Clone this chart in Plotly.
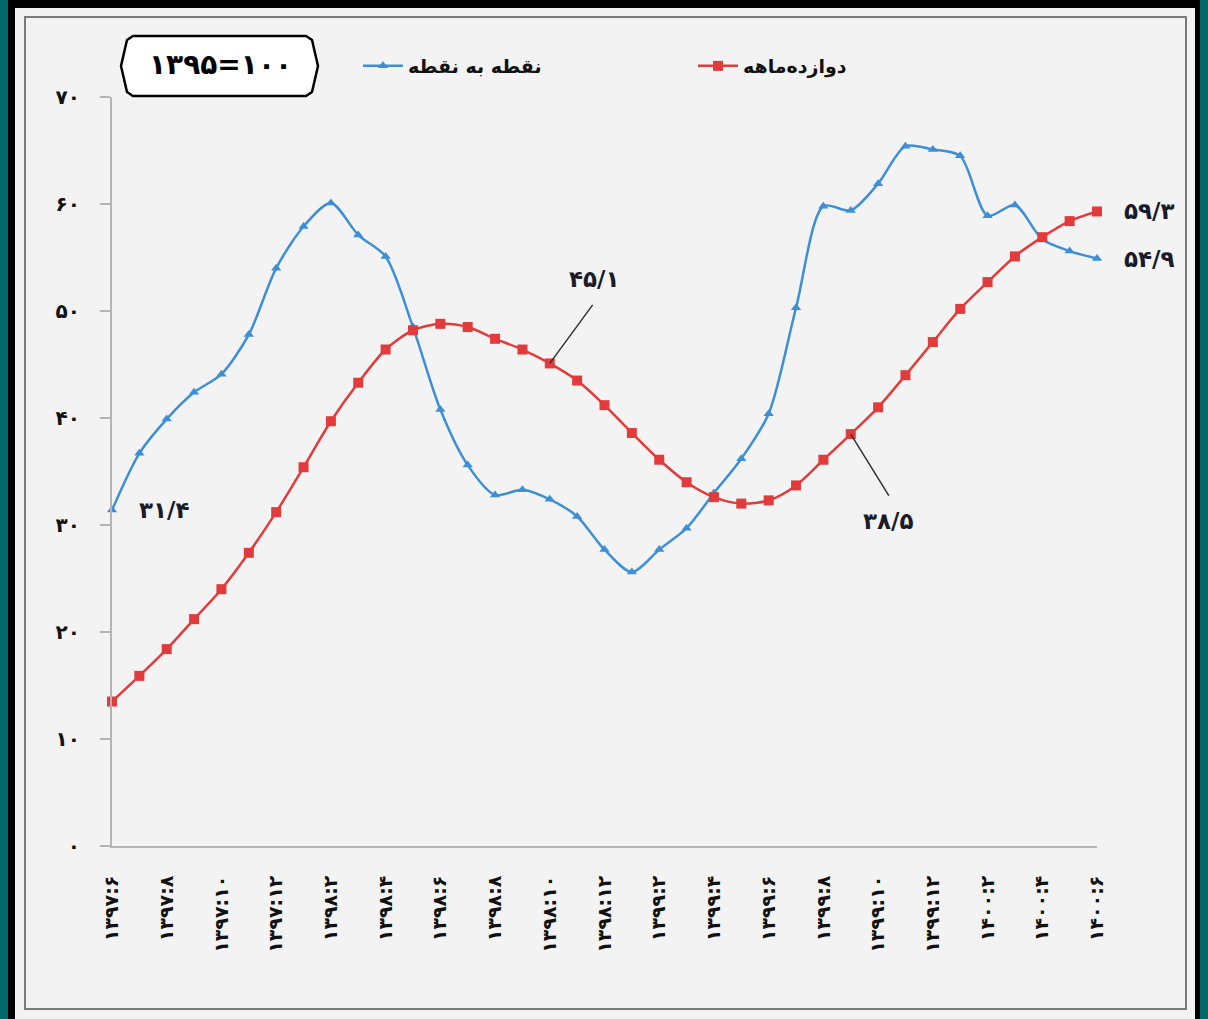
import plotly.graph_objects as go

# ---------------- data ----------------
categories = [
    "۱۳۹۷:۶", "۱۳۹۷:۷", "۱۳۹۷:۸", "۱۳۹۷:۹", "۱۳۹۷:۱۰", "۱۳۹۷:۱۱", "۱۳۹۷:۱۲",
    "۱۳۹۸:۱", "۱۳۹۸:۲", "۱۳۹۸:۳", "۱۳۹۸:۴", "۱۳۹۸:۵", "۱۳۹۸:۶",
    "۱۳۹۸:۷", "۱۳۹۸:۸", "۱۳۹۸:۹", "۱۳۹۸:۱۰", "۱۳۹۸:۱۱", "۱۳۹۸:۱۲",
    "۱۳۹۹:۱", "۱۳۹۹:۲", "۱۳۹۹:۳", "۱۳۹۹:۴", "۱۳۹۹:۵", "۱۳۹۹:۶",
    "۱۳۹۹:۷", "۱۳۹۹:۸", "۱۳۹۹:۹", "۱۳۹۹:۱۰", "۱۳۹۹:۱۱", "۱۳۹۹:۱۲",
    "۱۴۰۰:۱", "۱۴۰۰:۲", "۱۴۰۰:۳", "۱۴۰۰:۴", "۱۴۰۰:۵", "۱۴۰۰:۶",
]
point_to_point = [31.4, 36.7, 39.9, 42.4, 44.1, 47.8, 54.0, 57.9, 60.1, 57.1,
                  55.1, 48.5, 40.8, 35.6, 32.8, 33.3, 32.4, 30.8, 27.7, 25.6,
                  27.7, 29.7, 33.0, 36.2, 40.4, 50.3, 59.8, 59.4, 61.9, 65.4,
                  65.1, 64.5, 58.9, 59.9, 56.7, 55.6, 54.9]
twelve_month = [13.5, 15.9, 18.4, 21.2, 24.0, 27.4, 31.2, 35.4, 39.7, 43.3,
                46.4, 48.2, 48.8, 48.5, 47.4, 46.4, 45.1, 43.5, 41.2, 38.6,
                36.1, 34.0, 32.6, 32.0, 32.3, 33.7, 36.1, 38.5, 41.0, 44.0,
                47.1, 50.2, 52.7, 55.1, 56.9, 58.4, 59.3]
x_tick_labels = categories[::2]
y_tick_values = [0, 10, 20, 30, 40, 50, 60, 70]
y_tick_labels = ["۰", "۱۰", "۲۰", "۳۰", "۴۰", "۵۰", "۶۰", "۷۰"]
series_names = ["نقطه به نقطه", "دوازده‌ماهه"]
base_label = "۱۳۹۵=۱۰۰"
callouts = [  # (series index, point index, text)
    (0, 0, "۳۱/۴"),
    (1, 16, "۴۵/۱"),
    (1, 27, "۳۸/۵"),
    (1, 36, "۵۹/۳"),
    (0, 36, "۵۴/۹"),
]

# ---------------- layout geometry ----------------
W, H = 1208, 1019
L, R, T, B = 112, 1097, 97, 846
FONT = "DejaVu Sans"
BLUE = "#3d8fd6"
RED = "#e23b3b"


def px(x):
    return (x - L) / (R - L)


def py(y):
    return (B - y) / (B - T)


fig = go.Figure()
fig.add_trace(go.Scatter(
    x=categories, y=point_to_point, name=series_names[0], mode="lines+markers",
    line=dict(color=BLUE, width=2.5, shape="spline", smoothing=0.8),
    marker=dict(symbol="triangle-up", size=9, color=BLUE),
    cliponaxis=False,
))
fig.add_trace(go.Scatter(
    x=categories, y=twelve_month, name=series_names[1], mode="lines+markers",
    line=dict(color=RED, width=2.5, shape="spline", smoothing=0.8),
    marker=dict(symbol="square", size=10, color=RED),
    cliponaxis=False,
))

series = [point_to_point, twelve_month]
annotations = []
label_font = dict(family=FONT, size=23, color="#1a1a2a")
for s, i, txt in callouts:
    xv, yv = categories[i], series[s][i]
    if (s, i) == (1, 16):
        annotations.append(dict(x=xv, y=yv, text="", showarrow=True, arrowhead=0,
                                arrowwidth=1.5, arrowcolor="#333", ax=44, ay=-60, standoff=0))
        annotations.append(dict(x=xv, y=yv, text=f"<b>{txt}</b>", showarrow=False,
                                xshift=45, yshift=84, font=label_font))
    elif (s, i) == (1, 27):
        annotations.append(dict(x=xv, y=yv, text="", showarrow=True, arrowhead=0,
                                arrowwidth=1.5, arrowcolor="#333", ax=39, ay=63, standoff=0))
        annotations.append(dict(x=xv, y=yv, text=f"<b>{txt}</b>", showarrow=False,
                                xshift=38, yshift=-87, font=label_font))
    else:
        annotations.append(dict(x=xv, y=yv, text=f"<b>{txt}</b>", showarrow=False,
                                xshift=52, yshift=0, font=label_font))

# base-year box text
annotations.append(dict(xref="paper", yref="paper", x=px(220), y=py(65),
                        xanchor="center", yanchor="middle",
                        text=f"<b>{base_label}</b>", showarrow=False,
                        font=dict(family=FONT, size=28, color="#000")))


def path_from(points):
    return "M " + " L ".join(f"{px(a):.5f},{py(b):.5f}" for a, b in points) + " Z"


box_pts = [(121, 66), (127, 40), (133, 36), (306, 36), (312, 40), (318, 66),
           (312, 92), (306, 96), (133, 96), (127, 92)]

shapes = [
    # panel background and frame
    dict(type="rect", xref="paper", yref="paper", x0=px(0), x1=px(8), y0=py(0), y1=py(H),
         fillcolor="#00686a", line_width=0, layer="below"),
    dict(type="rect", xref="paper", yref="paper", x0=px(1200), x1=px(W), y0=py(0), y1=py(H),
         fillcolor="#00686a", line_width=0, layer="below"),
    dict(type="rect", xref="paper", yref="paper", x0=px(15), x1=px(1195), y0=py(8), y1=py(H),
         fillcolor="#f3f3f3", line_width=0, layer="below"),
    dict(type="rect", xref="paper", yref="paper", x0=px(25), x1=px(1186), y0=py(17), y1=py(1009),
         fillcolor="rgba(0,0,0,0)", line=dict(color="#7a7a7a", width=2), layer="below"),
    # base-year box
    dict(type="path", xref="paper", yref="paper", path=path_from(box_pts),
         fillcolor="#ffffff", line=dict(color="#000", width=2.5)),
]

fig.update_layout(
    width=W, height=H,
    margin=dict(l=L, r=W - R, t=T, b=H - B, autoexpand=False),
    paper_bgcolor="#000000",
    plot_bgcolor="#f6f6f6",
    font=dict(family=FONT, color="#111"),
    showlegend=True,
    legend=dict(orientation="h", x=px(358), y=py(66), xanchor="left", yanchor="middle",
                bgcolor="rgba(0,0,0,0)", font=dict(family=FONT, size=19, color="#111", weight="bold"),
                entrywidth=280, entrywidthmode="pixels", itemwidth=40),
    annotations=annotations,
    shapes=shapes,
    xaxis=dict(
        type="category", range=[0, len(categories) - 1],
        tickmode="array", tickvals=x_tick_labels, ticktext=[f"<b>{t}</b>" for t in x_tick_labels],
        tickangle=-90, ticks="", showgrid=False, zeroline=False,
        showline=True, linecolor="#b4b4b4", linewidth=2,
        tickfont=dict(family=FONT, size=19, color="#111"),
        ticklabelstandoff=20,
    ),
    yaxis=dict(
        range=[0, 70], tickmode="array", tickvals=y_tick_values,
        ticktext=[f"<b>{t}</b>" for t in y_tick_labels],
        ticks="outside", ticklen=10, tickcolor="#b4b4b4", tickwidth=1.5,
        showgrid=False, zeroline=False,
        showline=True, linecolor="#b4b4b4", linewidth=2,
        tickfont=dict(family=FONT, size=20, color="#111"),
        ticklabelstandoff=16,
    ),
)

fig.write_html(
    "out.html",
    config={"displayModeBar": False},
    post_script="document.body.style.margin='0';document.body.style.overflow='hidden';"
                "document.body.style.background='#000';",
)
